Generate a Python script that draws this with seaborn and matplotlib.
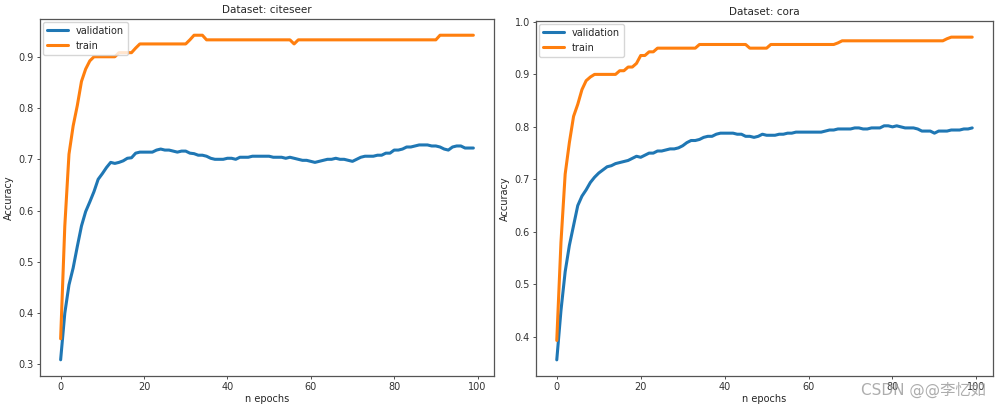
import numpy as np
import pandas as pd
import seaborn as sns
import matplotlib
matplotlib.use('Agg')
import matplotlib.pyplot as plt

# accuracy per epoch
epochs = list(range(100))

citeseer_val = [
    0.309, 0.400, 0.455, 0.488, 0.530, 0.570, 0.598, 0.617, 0.637, 0.661,
    0.672, 0.684, 0.694, 0.692, 0.694, 0.697, 0.702, 0.703, 0.712, 0.714,
    0.714, 0.714, 0.714, 0.718, 0.720, 0.718, 0.718, 0.716, 0.714, 0.716,
    0.716, 0.712, 0.711, 0.708, 0.708, 0.706, 0.702, 0.700, 0.700, 0.700,
    0.702, 0.702, 0.700, 0.704, 0.704, 0.704, 0.706, 0.706, 0.706, 0.706,
    0.706, 0.704, 0.704, 0.704, 0.702, 0.704, 0.702, 0.700, 0.698, 0.698,
    0.696, 0.694, 0.696, 0.698, 0.700, 0.700, 0.702, 0.700, 0.700, 0.698,
    0.696, 0.700, 0.704, 0.706, 0.706, 0.706, 0.708, 0.708, 0.712, 0.712,
    0.718, 0.718, 0.720, 0.724, 0.724, 0.726, 0.728, 0.728, 0.728, 0.726,
    0.726, 0.724, 0.720, 0.718, 0.724, 0.726, 0.726, 0.722, 0.722, 0.722,
]
citeseer_train = [
    0.350, 0.570, 0.710, 0.765, 0.805, 0.852, 0.876, 0.892, 0.900, 0.900,
    0.900, 0.900, 0.900, 0.900, 0.908, 0.908, 0.908, 0.908, 0.917, 0.925,
    0.925, 0.925, 0.925, 0.925, 0.925, 0.925, 0.925, 0.925, 0.925, 0.925,
    0.925, 0.933, 0.942, 0.942, 0.942, 0.933, 0.933, 0.933, 0.933, 0.933,
    0.933, 0.933, 0.933, 0.933, 0.933, 0.933, 0.933, 0.933, 0.933, 0.933,
    0.933, 0.933, 0.933, 0.933, 0.933, 0.933, 0.925, 0.933, 0.933, 0.933,
    0.933, 0.933, 0.933, 0.933, 0.933, 0.933, 0.933, 0.933, 0.933, 0.933,
    0.933, 0.933, 0.933, 0.933, 0.933, 0.933, 0.933, 0.933, 0.933, 0.933,
    0.933, 0.933, 0.933, 0.933, 0.933, 0.933, 0.933, 0.933, 0.933, 0.933,
    0.933, 0.942, 0.942, 0.942, 0.942, 0.942, 0.942, 0.942, 0.942, 0.942,
]
cora_val = [
    0.356, 0.450, 0.524, 0.574, 0.612, 0.650, 0.668, 0.680, 0.694, 0.704,
    0.712, 0.718, 0.724, 0.726, 0.730, 0.732, 0.734, 0.736, 0.740, 0.744,
    0.742, 0.746, 0.750, 0.750, 0.754, 0.754, 0.756, 0.758, 0.758, 0.760,
    0.764, 0.770, 0.774, 0.774, 0.776, 0.780, 0.782, 0.782, 0.786, 0.788,
    0.788, 0.788, 0.788, 0.786, 0.786, 0.782, 0.782, 0.780, 0.782, 0.786,
    0.784, 0.784, 0.784, 0.786, 0.786, 0.788, 0.788, 0.790, 0.790, 0.790,
    0.790, 0.790, 0.790, 0.790, 0.792, 0.794, 0.794, 0.796, 0.796, 0.796,
    0.796, 0.798, 0.798, 0.796, 0.796, 0.798, 0.798, 0.798, 0.802, 0.802,
    0.800, 0.802, 0.800, 0.798, 0.798, 0.798, 0.796, 0.792, 0.792, 0.792,
    0.788, 0.792, 0.792, 0.792, 0.794, 0.794, 0.794, 0.796, 0.796, 0.798,
]
cora_train = [
    0.393, 0.580, 0.710, 0.770, 0.820, 0.843, 0.871, 0.888, 0.895, 0.900,
    0.900, 0.900, 0.900, 0.900, 0.900, 0.907, 0.907, 0.914, 0.914, 0.921,
    0.936, 0.936, 0.943, 0.943, 0.950, 0.950, 0.950, 0.950, 0.950, 0.950,
    0.950, 0.950, 0.950, 0.950, 0.957, 0.957, 0.957, 0.957, 0.957, 0.957,
    0.957, 0.957, 0.957, 0.957, 0.957, 0.957, 0.950, 0.950, 0.950, 0.950,
    0.950, 0.957, 0.957, 0.957, 0.957, 0.957, 0.957, 0.957, 0.957, 0.957,
    0.957, 0.957, 0.957, 0.957, 0.957, 0.957, 0.957, 0.960, 0.964, 0.964,
    0.964, 0.964, 0.964, 0.964, 0.964, 0.964, 0.964, 0.964, 0.964, 0.964,
    0.964, 0.964, 0.964, 0.964, 0.964, 0.964, 0.964, 0.964, 0.964, 0.964,
    0.964, 0.964, 0.964, 0.968, 0.971, 0.971, 0.971, 0.971, 0.971, 0.971,
]

datasets = ['citeseer', 'cora']
curves = {
    'citeseer': (citeseer_val, citeseer_train),
    'cora': (cora_val, cora_train),
}

sns.set_theme(style='ticks')
plt.rcParams['font.family'] = ['DejaVu Sans', 'Noto Sans CJK SC']

fig = plt.figure(figsize=(10.01, 4.08), dpi=100)
positions = [
    [40 / 1001, 32 / 408, 454 / 1001, 357 / 408],
    [536 / 1001, 32 / 408, 457 / 1001, 355 / 408],
]

for name, pos in zip(datasets, positions):
    val, train = curves[name]
    df = pd.DataFrame({
        'epoch': epochs * 2,
        'acc': val + train,
        'split': ['validation'] * len(val) + ['train'] * len(train),
    })
    ax = fig.add_axes(pos)
    sns.lineplot(data=df, x='epoch', y='acc', hue='split',
                 hue_order=['validation', 'train'],
                 palette=['#1f77b4', '#ff7f0e'], linewidth=2.2, ax=ax)
    ax.set_title('Dataset: ' + name, fontsize=7.5, pad=4)
    ax.set_xlabel('n epochs', fontsize=7, labelpad=1)
    ax.set_ylabel('Accuracy', fontsize=7, labelpad=3)
    ax.tick_params(labelsize=7, length=2.5, width=0.6, pad=2, colors='#333333')
    ax.set_xticks([0, 20, 40, 60, 80, 100])
    for s in ax.spines.values():
        s.set_color('#555555')
        s.set_linewidth(0.9)
    leg = ax.legend(loc='upper left', fontsize=7, frameon=True,
                    borderaxespad=0.3, handlelength=2.2)
    leg.get_frame().set_edgecolor('#cccccc')

# CSDN watermark, sits over the right plot's tick labels as in the source
fig.text(0.985, 0.025, 'CSDN @@李忆如', ha='right', va='bottom',
         fontsize=11, color='#999999', alpha=0.8,
         family=['DejaVu Sans', 'Noto Sans CJK SC'])

fig.savefig('out.png', dpi=100)
